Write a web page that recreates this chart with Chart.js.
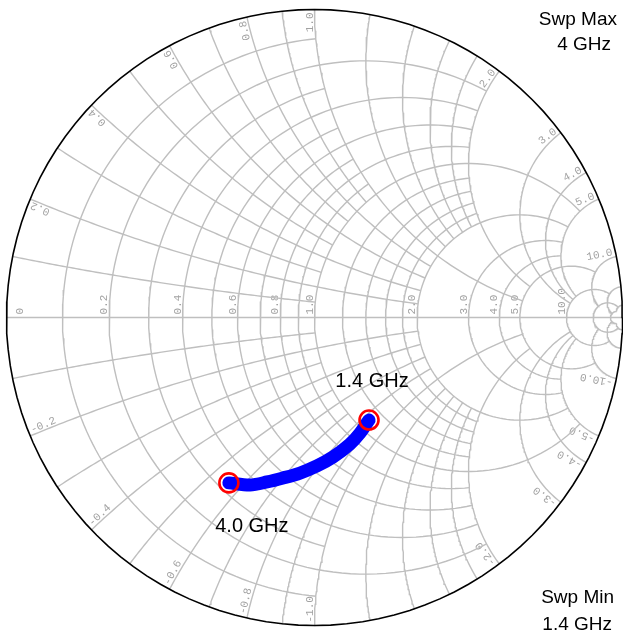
<!DOCTYPE html>
<html>
<head>
<meta charset="utf-8">
<script src="https://cdn.jsdelivr.net/npm/chart.js@4.4.1/dist/chart.umd.min.js"></script>
<style>
  html, body { margin: 0; padding: 0; background: #fff; }
  #wrap { width: 623px; height: 632px; }
</style>
</head>
<body>
<div id="wrap"><canvas id="smith" width="623" height="632"></canvas></div>
<script>
// trace: reflection coefficient, 1.4 GHz -> 4.0 GHz
const traceRe = [0.177, 0.148, 0.115, 0.060, 0.008, -0.047, -0.102, -0.154, -0.209, -0.278];
const traceIm = [-0.333, -0.375, -0.411, -0.453, -0.482, -0.505, -0.521, -0.534, -0.544, -0.537];
const markerText = ['1.4 GHz', '4.0 GHz'];

// grid: constant resistance circles, with the largest |x| each one runs to
const rGrid  = [0.1, 0.2, 0.3, 0.4, 0.5, 0.6, 0.7, 0.8, 0.9, 1.0, 1.2, 1.4, 1.6, 1.8, 2.0, 3.0, 4.0, 5.0, 10, 20, 50];
const rLimit = [1,   2,   1,   2,   1,   2,   1,   2,   1,   5,   2,   2,   2,   2,   5,   5,   5,   10,  20, 50, 50];
// constant reactance arcs, with the largest r each one runs to
const xGrid  = [0.1, 0.2, 0.3, 0.4, 0.5, 0.6, 0.7, 0.8, 0.9, 1.0, 1.2, 1.4, 1.6, 1.8, 2.0, 3.0, 4.0, 5.0, 10, 20, 50];
const xLimit = [1,   2,   1,   2,   1,   2,   1,   2,   1,   5,   2,   2,   2,   2,   5,   10,  10,  10,  20, 50, 50];

// tick labels
const rLabels = [0, 0.2, 0.4, 0.6, 0.8, 1.0, 2.0, 3.0, 4.0, 5.0, 10.0];
const xLabels = [0.2, 0.4, 0.6, 0.8, 1.0, 2.0, 3.0, 4.0, 5.0, 10.0];

const sweepMax = ['Swp Max', '4 GHz'];
const sweepMin = ['Swp Min', '1.4 GHz'];

// ---- smith math ----
function gammaOf(r, x) {
  const den = (r + 1) * (r + 1) + x * x;
  return [(r * r - 1 + x * x) / den, (2 * x) / den];
}
function wrap(a) {
  while (a > Math.PI) a -= 2 * Math.PI;
  while (a <= -Math.PI) a += 2 * Math.PI;
  return a;
}
function rArc(r, xmax) {
  const cx = r / (1 + r), rad = 1 / (1 + r);
  let t0 = 0;
  if (isFinite(xmax)) {
    const g = gammaOf(r, xmax);
    t0 = Math.atan2(g[1], g[0] - cx);
  }
  const pts = [], n = 120;
  for (let i = 0; i <= n; i++) {
    const t = t0 + (2 * Math.PI - 2 * t0) * i / n;
    pts.push({ x: cx + rad * Math.cos(t), y: rad * Math.sin(t) });
  }
  return pts;
}
function xArc(x, rmax) {
  const cy = 1 / x, rad = Math.abs(1 / x);
  const g0 = gammaOf(0, x);
  const g1 = isFinite(rmax) ? gammaOf(rmax, x) : [1, 0];
  const a0 = Math.atan2(g0[1] - cy, g0[0] - 1);
  const d = wrap(Math.atan2(g1[1] - cy, g1[0] - 1) - a0);
  const pts = [], n = 90;
  for (let i = 0; i <= n; i++) {
    const a = a0 + d * i / n;
    pts.push({ x: 1 + rad * Math.cos(a), y: cy + rad * Math.sin(a) });
  }
  return pts;
}

function line(pts, color, width, order) {
  return {
    data: pts, showLine: true, pointRadius: 0, pointHoverRadius: 0,
    borderColor: color, borderWidth: width, order: order, clip: false
  };
}

const GRID = '#bfbfbf';
const GW = 1.4;
const datasets = [];

// trace + markers
datasets.push({
  data: traceRe.map((v, i) => ({ x: v, y: traceIm[i] })),
  showLine: true, pointRadius: 0, borderColor: '#0000ff', borderWidth: 13,
  borderCapStyle: 'round', borderJoinStyle: 'round', tension: 0.3, order: 1, clip: false
});
datasets.push({
  data: [0, traceRe.length - 1].map(i => ({ x: traceRe[i], y: traceIm[i] })),
  showLine: false, pointRadius: 9.5, pointBorderWidth: 2.6,
  pointBorderColor: '#ff0000', pointBackgroundColor: 'rgba(0,0,0,0)', order: 0, clip: false
});

// grid
datasets.push(line([{ x: -1, y: 0 }, { x: 1, y: 0 }], GRID, GW, 10));
rGrid.forEach((r, i) => datasets.push(line(rArc(r, rLimit[i]), GRID, GW, 10)));
xGrid.forEach((x, i) => {
  datasets.push(line(xArc(x, xLimit[i]), GRID, GW, 10));
  datasets.push(line(xArc(-x, xLimit[i]), GRID, GW, 10));
});
// outer circle
datasets.push(line(rArc(0, Infinity), '#000000', 1.6, 5));

// ---- labels ----
const fmt = v => (v === 0 ? '0' : v.toFixed(1));

const smithLabels = {
  id: 'smithLabels',
  beforeDatasetsDraw(chart) {
    const ctx = chart.ctx, sx = chart.scales.x, sy = chart.scales.y;
    const cx = sx.getPixelForValue(0), cy = sy.getPixelForValue(0);
    const R = sx.getPixelForValue(1) - cx;
    ctx.save();
    ctx.fillStyle = '#a2a2a2';
    ctx.font = '11px "Liberation Mono", "Courier New", monospace';
    ctx.textBaseline = 'alphabetic';

    // resistance values along the real axis
    rLabels.forEach(r => {
      let px = sx.getPixelForValue((r - 1) / (r + 1)) - 2;
      if (r === 0) px = cx - R + 16;
      ctx.save();
      ctx.translate(px, cy - 3);
      ctx.rotate(-Math.PI / 2);
      ctx.textAlign = 'left';
      ctx.fillText(fmt(r), 0, 0);
      ctx.restore();
    });

    // reactance values around the rim
    xLabels.forEach(x => {
      [1, -1].forEach(s => {
        const g = gammaOf(0, s * x);
        const phi = Math.atan2(g[1], g[0]);
        const px = cx + R * Math.cos(phi), py = cy - R * Math.sin(phi);
        ctx.save();
        ctx.translate(px, py);
        if (s > 0) {
          ctx.rotate(-phi);
          ctx.textAlign = 'right';
          ctx.fillText(fmt(x), -3, -2);
        } else {
          ctx.rotate(-(phi + Math.PI));
          ctx.textAlign = 'left';
          ctx.fillText(fmt(-x), 3, -2);
        }
        ctx.restore();
      });
    });
    ctx.restore();
  },
  afterDatasetsDraw(chart) {
    const ctx = chart.ctx, sx = chart.scales.x, sy = chart.scales.y;
    ctx.save();
    ctx.fillStyle = '#000';
    ctx.textBaseline = 'alphabetic';

    // marker labels
    ctx.font = '20px "Liberation Sans", Arial, sans-serif';
    ctx.textAlign = 'center';
    const a = traceRe.length - 1;
    ctx.fillText(markerText[0], sx.getPixelForValue(traceRe[0]) + 3, sy.getPixelForValue(traceIm[0]) - 33);
    ctx.fillText(markerText[1], sx.getPixelForValue(traceRe[a]) + 23, sy.getPixelForValue(traceIm[a]) + 49);

    // sweep notes
    ctx.font = '19px "Liberation Sans", Arial, sans-serif';
    ctx.textAlign = 'right';
    ctx.fillText(sweepMax[0], 617, 25);
    ctx.fillText(sweepMax[1], 611, 50);
    ctx.fillText(sweepMin[0], 614, 603);
    ctx.fillText(sweepMin[1], 612, 630);
    ctx.restore();
  }
};

// pixel frame: centre (314.5, 317.5), radius 308
const CX = 314.5, CY = 317.5, RAD = 308, W = 623, H = 632;

new Chart(document.getElementById('smith'), {
  type: 'scatter',
  data: { datasets },
  options: {
    responsive: false,
    animation: false,
    events: [],
    layout: { padding: 0, autoPadding: false },
    plugins: { legend: { display: false }, tooltip: { enabled: false } },
    scales: {
      x: { type: 'linear', display: false, min: -CX / RAD, max: (W - CX) / RAD },
      y: { type: 'linear', display: false, min: (CY - H) / RAD, max: CY / RAD }
    }
  },
  plugins: [smithLabels]
});
</script>
</body>
</html>
